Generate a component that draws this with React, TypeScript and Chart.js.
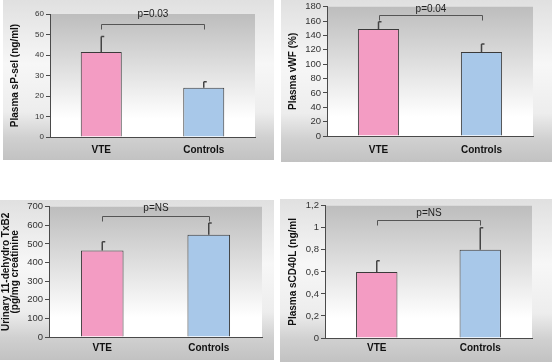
import React, { useEffect, useRef } from "react";
import { Chart, registerables } from "chart.js";
Chart.register(...registerables);

// ---------- data ----------
const categories = ["VTE", "Controls"];

const spselMeans = [41.5, 24];
const spselErrors = [7.5, 3];
const spselTicks = { max: 60, step: 10 };

const vwfMeans = [149, 117];
const vwfErrors = [10, 11];
const vwfTicks = { max: 180, step: 20 };

const txb2Means = [465, 550];
const txb2Errors = [47, 62];
const txb2Ticks = { max: 700, step: 100 };

const cd40Means = [0.6, 0.8];
const cd40Errors = [0.1, 0.2];
const cd40TickLabels = ["0", "0,2", "0,4", "0,6", "0,8", "1", "1,2"];
const cd40Ticks = { max: 1.2, step: 0.2 };

const yTitles: (string | string[])[] = [
  "Plasma sP-sel (ng/ml)",
  "Plasma vWF (%)",
  ["Urinary 11-dehydro TxB2", "(pg/mg creatinine"],
  "Plasma sCD40L (ng/ml",
];
const pLabels = ["p=0.03", "p=0.04", "p=NS", "p=NS"];
const bracketLevels = [55, 168.5, 650, 1.07];
const pLabelLevels = [60, 176, 690, 1.135];

// ---------- style ----------
const PINK = "#F39CC3";
const BLUE = "#A8C8E9";
const AXIS = "#4a4a4a";

const decor = {
  id: "decor",
  beforeDraw(chart: any) {
    const { ctx, width, height, chartArea: ca } = chart;
    ctx.save();
    const g = ctx.createLinearGradient(0, 0, 0, height);
    g.addColorStop(0, "#e0e0e0");
    g.addColorStop(0.4, "#f7f7f7");
    g.addColorStop(0.7, "#ededed");
    g.addColorStop(0.86, "#d0d0d0");
    g.addColorStop(1, "#c2c2c2");
    ctx.fillStyle = g;
    ctx.fillRect(0, 0, width, height);
    const g2 = ctx.createLinearGradient(0, ca.top, 0, ca.bottom);
    g2.addColorStop(0, "#bdbdbd");
    g2.addColorStop(0.85, "#ffffff");
    g2.addColorStop(1, "#ffffff");
    ctx.fillStyle = g2;
    ctx.fillRect(ca.left, ca.top, ca.right - ca.left, ca.bottom - ca.top);
    ctx.restore();
  },
  afterDatasetsDraw(chart: any, _args: any, opts: any) {
    const { ctx } = chart;
    const y = chart.scales.y;
    const meta = chart.getDatasetMeta(0);
    const means: number[] = opts.means;
    const errors: number[] = opts.errors;
    ctx.save();
    ctx.strokeStyle = "#444";
    ctx.lineWidth = 1.5;
    meta.data.forEach((bar: any, i: number) => {
      const top = y.getPixelForValue(means[i] + errors[i]);
      ctx.beginPath();
      ctx.moveTo(bar.x, bar.y);
      ctx.lineTo(bar.x, top);
      ctx.moveTo(bar.x, top);
      ctx.lineTo(bar.x + 3, top);
      ctx.stroke();
    });
    const by = Math.round(y.getPixelForValue(opts.bracket)) + 0.5;
    const x1 = Math.round(meta.data[0].x) + 0.5;
    const x2 = Math.round(meta.data[1].x) + 0.5;
    ctx.lineWidth = 1;
    ctx.strokeStyle = "#555";
    ctx.beginPath();
    ctx.moveTo(x1, by + 5);
    ctx.lineTo(x1, by);
    ctx.lineTo(x2, by);
    ctx.lineTo(x2, by + 5);
    ctx.stroke();
    ctx.fillStyle = "#222";
    ctx.font = "10px 'Liberation Sans', Arial, sans-serif";
    ctx.textAlign = "center";
    ctx.textBaseline = "middle";
    ctx.fillText(opts.pLabel, (x1 + x2) / 2, y.getPixelForValue(opts.pLevel));
    ctx.restore();
  },
};

type Panel = {
  left: number; top: number; w: number; h: number;
  padTop: number; padRight: number; yW: number; xH: number;
  means: number[]; errors: number[];
  max: number; step: number; tickSize: number;
  tickLabels?: string[];
  title: string | string[]; titlePad: number; titleLH: number;
  xPad: number; idx: number;
};

const panels: Panel[] = [
  { left: 3, top: 0, w: 271, h: 160, padTop: 14, padRight: 19, yW: 47, xH: 23,
    means: spselMeans, errors: spselErrors, max: spselTicks.max, step: spselTicks.step, tickSize: 8,
    title: yTitles[0], titlePad: 6, titleLH: 1.2, xPad: 7, idx: 0 },
  { left: 281, top: 0, w: 271, h: 162, padTop: 5, padRight: 19, yW: 46, xH: 26,
    means: vwfMeans, errors: vwfErrors, max: vwfTicks.max, step: vwfTicks.step, tickSize: 9.5,
    title: yTitles[1], titlePad: 6, titleLH: 1.2, xPad: 8, idx: 1 },
  { left: 0, top: 200, w: 274, h: 160, padTop: 4, padRight: 12, yW: 49, xH: 23,
    means: txb2Means, errors: txb2Errors, max: txb2Ticks.max, step: txb2Ticks.step, tickSize: 9.5,
    title: yTitles[2], titlePad: 2, titleLH: 0.9, xPad: 5, idx: 2 },
  { left: 280, top: 199, w: 272, h: 163, padTop: 6, padRight: 20, yW: 45, xH: 24,
    means: cd40Means, errors: cd40Errors, max: cd40Ticks.max, step: cd40Ticks.step, tickSize: 9.5,
    tickLabels: cd40TickLabels,
    title: yTitles[3], titlePad: 7, titleLH: 1.2, xPad: 4, idx: 3 },
];

function BarPanel({ p }: { p: Panel }) {
  const ref = useRef<HTMLCanvasElement | null>(null);
  useEffect(() => {
    if (!ref.current) return;
    const chart = new Chart(ref.current, {
      type: "bar",
      data: {
        labels: categories,
        datasets: [
          {
            data: p.means,
            backgroundColor: [PINK, BLUE],
            borderColor: "#3a3a3a",
            borderWidth: 1,
            barPercentage: 0.8,
            categoryPercentage: 0.5,
          },
        ],
      },
      options: {
        animation: false,
        responsive: false,
        layout: { padding: { top: p.padTop, right: p.padRight, left: 0, bottom: 0 } },
        plugins: {
          legend: { display: false },
          tooltip: { enabled: false },
          decor: {
            means: p.means,
            errors: p.errors,
            bracket: bracketLevels[p.idx],
            pLabel: pLabels[p.idx],
            pLevel: pLabelLevels[p.idx],
          },
        } as any,
        scales: {
          x: {
            grid: { display: false, drawTicks: false },
            border: { display: true, color: AXIS, width: 1 },
            ticks: {
              color: "#111",
              padding: p.xPad,
              font: { family: "'Liberation Sans', Arial, sans-serif", size: 10, weight: "bold" },
            },
            afterFit: (s: any) => { s.height = p.xH; },
          },
          y: {
            min: 0,
            max: p.max,
            ticks: {
              stepSize: p.step,
              color: "#333",
              padding: 2,
              font: { family: "'Liberation Sans', Arial, sans-serif", size: p.tickSize, lineHeight: 1 },
              callback: (v: any, i: number) => (p.tickLabels ? p.tickLabels[i] : String(v)),
            },
            grid: { drawOnChartArea: false, drawTicks: true, tickLength: 4, color: AXIS },
            border: { display: true, color: AXIS, width: 1 },
            title: {
              display: true,
              text: p.title,
              color: "#111",
              padding: { top: p.titlePad, bottom: 0 },
              font: { family: "'Liberation Sans', Arial, sans-serif", size: 10, weight: "bold", lineHeight: p.titleLH },
            },
            afterFit: (s: any) => { s.width = p.yW; },
          },
        },
      },
      plugins: [decor as any],
    });
    return () => chart.destroy();
  }, [p]);
  return (
    <div style={{ position: "absolute", left: p.left, top: p.top, width: p.w, height: p.h }}>
      <canvas ref={ref} width={p.w} height={p.h} style={{ display: "block" }} />
    </div>
  );
}

export default function App() {
  return (
    <div style={{ position: "absolute", left: 0, top: 0, width: 552, height: 362, background: "#fff", overflow: "hidden" }}>
      {panels.map((p) => (
        <BarPanel key={p.idx} p={p} />
      ))}
    </div>
  );
}
